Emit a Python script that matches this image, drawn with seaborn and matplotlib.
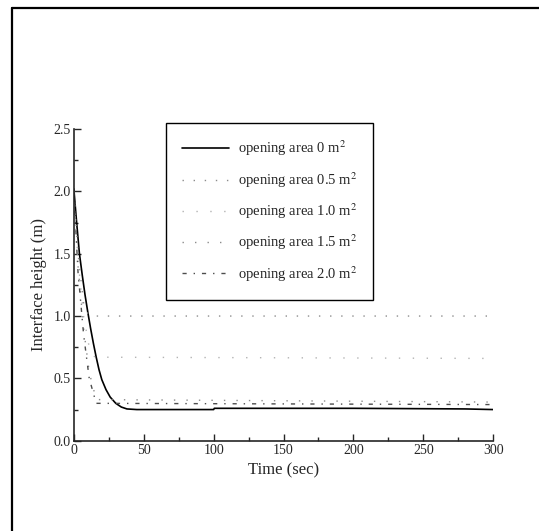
import numpy as np
import pandas as pd
import matplotlib
matplotlib.use("Agg")
import matplotlib.pyplot as plt
from matplotlib.lines import Line2D
import seaborn as sns

# time axis (sec) and interface height (m)
t_0 = [0, 2, 4, 6, 8, 10, 12, 14, 16, 18, 20, 23, 26, 30, 34, 38, 45, 100, 100.5, 200, 280, 300]
h_0 = [2.02, 1.75, 1.5, 1.33, 1.17, 1.03, 0.9, 0.78, 0.67, 0.57, 0.49, 0.41, 0.35, 0.3, 0.27, 0.255,
       0.25, 0.25, 0.26, 0.26, 0.255, 0.25]
t_05 = [0, 3, 7, 10, 12, 300]
h_05 = [2.0, 1.5, 1.1, 1.02, 1.0, 1.0]
t_10 = [0, 3, 7, 11, 15, 300]
h_10 = [2.0, 1.45, 1.0, 0.75, 0.67, 0.66]
t_15 = [0, 3, 7, 11, 16, 300]
h_15 = [2.0, 1.4, 0.9, 0.55, 0.33, 0.31]
t_20 = [0, 3, 7, 11, 16, 300]
h_20 = [2.0, 1.35, 0.85, 0.5, 0.3, 0.29]

labels = ['opening area 0 m$^2$', 'opening area 0.5 m$^2$', 'opening area 1.0 m$^2$',
          'opening area 1.5 m$^2$', 'opening area 2.0 m$^2$']
series = [(t_0, h_0), (t_05, h_05), (t_10, h_10), (t_15, h_15), (t_20, h_20)]
styles = [dict(color='black', lw=1.2, ls='-'),
          dict(color='0.55', lw=1.0, ls=(0, (1, 7))),
          dict(color='0.7', lw=1.0, ls=(0, (1, 9))),
          dict(color='0.55', lw=1.0, ls=(0, (1, 8))),
          dict(color='0.3', lw=1.0, ls=(0, (3, 5, 1, 5)))]

sns.set_style('ticks')
plt.rcParams['font.family'] = ['Liberation Serif', 'DejaVu Serif']
plt.rcParams['mathtext.fontset'] = 'stix'

fig = plt.figure(figsize=(5.39, 5.31), dpi=100)
ax = fig.add_axes([0.137, 0.170, 0.778, 0.587])

for (t, h), lab, st in zip(series, labels, styles):
    df = pd.DataFrame({'t': t, 'h': h})
    sns.lineplot(data=df, x='t', y='h', ax=ax, label=lab, color=st['color'],
                 linewidth=st['lw'], linestyle=st['ls'])

ax.set_xlim(0, 300)
ax.set_ylim(0, 2.5)
ax.set_xticks(np.arange(0, 301, 50))
ax.set_xticks(np.arange(0, 301, 25), minor=True)
ax.set_yticks(np.arange(0, 2.51, 0.5))
ax.set_yticks(np.arange(0, 2.51, 0.25), minor=True)
ax.set_yticklabels([f'{v:.1f}' for v in np.arange(0, 2.51, 0.5)])
ax.tick_params(which='major', direction='in', length=5, width=1, labelsize=10, pad=2)
ax.tick_params(which='minor', direction='in', length=3, width=1)
sns.despine(ax=ax)
for s in ['left', 'bottom']:
    ax.spines[s].set_linewidth(1.2)
ax.set_xlabel('Time (sec)', fontsize=12, labelpad=4)
ax.set_ylabel('Interface height (m)', fontsize=12, labelpad=5)

leg = ax.legend(loc='upper left', bbox_to_anchor=(0.22, 1.02), borderaxespad=0,
                fontsize=10.5, handlelength=3.2, labelspacing=0.8, borderpad=1.1,
                handletextpad=0.6, fancybox=False, edgecolor='black', framealpha=1)
leg.get_frame().set_linewidth(1.0)

# partial page frame from the scan (left and top edges)
fig.add_artist(Line2D([12 / 539, 12 / 539], [0, 1 - 8 / 531], transform=fig.transFigure, color='black', lw=1.6))
fig.add_artist(Line2D([12 / 539, 1], [1 - 8 / 531, 1 - 8 / 531], transform=fig.transFigure, color='black', lw=1.6))

fig.savefig('out.png', dpi=100)
